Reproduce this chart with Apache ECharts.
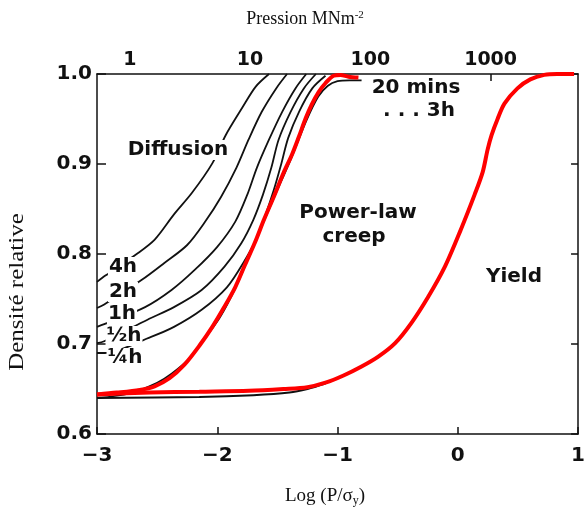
<!DOCTYPE html>
<html>
<head>
<meta charset="utf-8">
<script src="https://cdn.jsdelivr.net/npm/echarts@6/dist/echarts.min.js"></script>
<style>
  html, body { margin: 0; padding: 0; background: #fff; }
  #chart { width: 588px; height: 513px; }
</style>
</head>
<body>
<div id="chart"></div>
<script>
// axes: log(P/sigma_y) at the bottom, pressure (MN/m2) on top
const xTicks = [-3, -2, -1, 0, 1];
const densityTicks = [0.6, 0.7, 0.8, 0.9, 1.0];
const pressureTicks = [1, 10, 100, 1000];
const pressureOffset = 2.727; // log(P) - log(P/sigma_y)

// diffusion curves (black)
const h4X = [-3.0, -2.93, -2.67, -2.52, -2.36, -2.21, -2.04, -1.93, -1.79, -1.68, -1.57];
const h4Y = [0.769, 0.776, 0.800, 0.816, 0.844, 0.868, 0.901, 0.932, 0.963, 0.986, 1.0];

const h2X = [-3.0, -2.94, -2.63, -2.44, -2.25, -2.10, -1.97, -1.84, -1.74, -1.63, -1.51, -1.42];
const h2Y = [0.740, 0.744, 0.771, 0.790, 0.810, 0.836, 0.863, 0.896, 0.927, 0.958, 0.984, 1.0];

const h1X = [-3.0, -2.94, -2.60, -2.38, -2.19, -2.00, -1.85, -1.75, -1.67, -1.57, -1.46, -1.35, -1.26];
const h1Y = [0.719, 0.722, 0.741, 0.760, 0.782, 0.808, 0.836, 0.866, 0.896, 0.927, 0.958, 0.984, 1.0];

const halfHX = [-3.0, -2.94, -2.58, -2.36, -2.13, -1.94, -1.80, -1.70, -1.62, -1.55, -1.49, -1.39, -1.28, -1.18];
const halfHY = [0.701, 0.703, 0.727, 0.741, 0.760, 0.786, 0.812, 0.838, 0.866, 0.896, 0.927, 0.958, 0.984, 1.0];

const quarterHX = [-3.0, -2.94, -2.55, -2.36, -2.13, -1.92, -1.78, -1.67, -1.60, -1.53, -1.47, -1.41, -1.32, -1.21, -1.10];
const quarterHY = [0.690, 0.690, 0.708, 0.719, 0.738, 0.763, 0.791, 0.818, 0.843, 0.871, 0.899, 0.929, 0.958, 0.984, 0.998];

// black traces partly hidden under the red ones
const min20X = [-3.0, -2.73, -2.50, -2.38, -2.23, -2.11, -1.98, -1.85, -1.69, -1.53, -1.38, -1.26, -1.16, -1.08, -1.0, -0.90, -0.80];
const min20Y = [0.640, 0.645, 0.657, 0.667, 0.684, 0.705, 0.729, 0.762, 0.812, 0.862, 0.908, 0.948, 0.975, 0.987, 0.992, 0.993, 0.993];

const baseX = [-3.0, -2.15, -1.70, -1.40, -1.25, -1.10];
const baseY = [0.640, 0.641, 0.643, 0.646, 0.650, 0.656];

// red curves: power-law creep and yield
const creepX = [-3.0, -2.835, -2.645, -2.521, -2.397, -2.273, -2.149, -2.041, -1.942, -1.851, -1.769, -1.686, -1.612,
  -1.529, -1.446, -1.380, -1.322, -1.264, -1.215, -1.157, -1.099, -1.033, -0.975, -0.909, -0.826];
const creepY = [0.644, 0.646, 0.649, 0.653, 0.662, 0.677, 0.698, 0.719, 0.741, 0.763, 0.788, 0.813, 0.838,
  0.864, 0.891, 0.910, 0.930, 0.951, 0.966, 0.980, 0.990, 0.998, 0.999, 0.997, 0.996];

const yieldX = [-3.0, -2.562, -2.149, -1.736, -1.45, -1.25, -1.10, -0.95, -0.80, -0.661, -0.521, -0.388, -0.248,
  -0.107, 0.025, 0.140, 0.207, 0.248, 0.281, 0.331, 0.388, 0.496, 0.603, 0.719, 0.826, 0.967];
const yieldY = [0.644, 0.646, 0.647, 0.648, 0.650, 0.652, 0.657, 0.665, 0.675, 0.686, 0.701, 0.723, 0.752,
  0.786, 0.827, 0.866, 0.891, 0.916, 0.932, 0.950, 0.967, 0.984, 0.994, 0.999, 1.0, 1.0];

function zip(xs, ys) {
  return xs.map((x, i) => [x, ys[i]]);
}

function line(name, xs, ys, color, width, z) {
  return {
    name: name,
    type: 'line',
    xAxisIndex: 0,
    yAxisIndex: 0,
    data: zip(xs, ys),
    smooth: 0.3,
    showSymbol: false,
    z: z,
    lineStyle: { color: color, width: width },
    silent: true
  };
}

const boldFont = '"DejaVu Sans", Arial, sans-serif';
const serifFont = '"Liberation Serif", "Times New Roman", serif';

function note(text, x, y) {
  return {
    type: 'text',
    x: x,
    y: y,
    z: 100,
    style: {
      text: text,
      font: 'bold 20px ' + boldFont,
      fill: '#111',
      align: 'center',
      verticalAlign: 'middle',
      backgroundColor: '#fff',
      padding: [0, 1]
    }
  };
}

const chart = echarts.init(document.getElementById('chart'), null, { renderer: 'canvas' });

const axisLine = { show: true, onZero: false, lineStyle: { color: '#111', width: 1.5 } };
const tickLabel = { color: '#111', fontFamily: boldFont, fontWeight: 'bold', fontSize: 20 };

chart.setOption({
  animation: false,
  backgroundColor: '#fff',
  grid: { left: 97, right: 7, top: 74, bottom: 79 },
  xAxis: [
    {
      type: 'value',
      position: 'bottom',
      min: -3,
      max: 1,
      interval: 1,
      axisLine: axisLine,
      axisTick: { inside: true, length: 7, lineStyle: { color: '#111', width: 1.5 } },
      axisLabel: Object.assign({}, tickLabel, {
        margin: 12,
        formatter: v => (v < 0 ? '\u2212' + Math.abs(v) : String(v))
      }),
      splitLine: { show: false }
    },
    {
      type: 'value',
      position: 'top',
      min: -3 + pressureOffset,
      max: 1 + pressureOffset,
      axisLine: axisLine,
      axisTick: { inside: true, length: 7, customValues: [Math.log10(1000)], lineStyle: { color: '#111', width: 1.5 } },
      axisLabel: Object.assign({}, tickLabel, {
        fontSize: 19,
        margin: 4,
        customValues: pressureTicks.map(p => Math.log10(p)),
        formatter: v => String(Math.round(Math.pow(10, v)))
      }),
      splitLine: { show: false }
    }
  ],
  yAxis: [
    {
      type: 'value',
      position: 'left',
      min: 0.6,
      max: 1.0,
      interval: 0.1,
      axisLine: axisLine,
      axisTick: { inside: true, length: 9, lineStyle: { color: '#111', width: 1.5 } },
      axisLabel: Object.assign({}, tickLabel, {
        margin: 5,
        formatter: v => v.toFixed(1)
      }),
      splitLine: { show: false }
    },
    {
      type: 'value',
      position: 'right',
      min: 0.6,
      max: 1.0,
      interval: 0.1,
      axisLine: axisLine,
      axisTick: { inside: true, length: 7, lineStyle: { color: '#111', width: 1.5 } },
      axisLabel: { show: false },
      splitLine: { show: false }
    }
  ],
  series: [
    line('4h', h4X, h4Y, '#111', 1.8, 3),
    line('2h', h2X, h2Y, '#111', 1.8, 3),
    line('1h', h1X, h1Y, '#111', 1.8, 3),
    line('1/2h', halfHX, halfHY, '#111', 1.8, 3),
    line('1/4h', quarterHX, quarterHY, '#111', 1.8, 3),
    line('20 mins', min20X, min20Y, '#111', 1.8, 3),
    line('base', baseX, baseY, '#111', 2, 3),
    line('Power-law creep', creepX, creepY, '#ff0000', 4, 5),
    line('Yield', yieldX, yieldY, '#ff0000', 4, 5)
  ],
  graphic: [
    note('Diffusion', 178, 150),
    note('Power-law', 358, 213),
    note('creep', 354, 237),
    note('Yield', 514, 277),
    note('20 mins', 416, 88),
    note('. . . 3h', 419, 111),
    note('4h', 123, 267),
    note('2h', 123, 292),
    note('1h', 122, 314),
    note('\u00bdh', 124, 336),
    note('\u00bch', 125, 358),
    {
      type: 'text',
      x: 305,
      y: 19,
      z: 100,
      style: {
        text: 'Pression MNm{sup|-2}',
        font: '18px ' + serifFont,
        fill: '#111',
        align: 'center',
        verticalAlign: 'middle',
        rich: {
          sup: { font: '11px ' + serifFont, fill: '#111', verticalAlign: 'top', padding: [0, 0, 8, 0] }
        }
      }
    },
    {
      type: 'text',
      x: 325,
      y: 496,
      z: 100,
      style: {
        text: 'Log (P/\u03c3{sub|y})',
        font: '19px ' + serifFont,
        fill: '#111',
        align: 'center',
        verticalAlign: 'middle',
        rich: {
          sub: { font: '12px ' + serifFont, fill: '#111', padding: [9, 0, 0, 0] }
        }
      }
    },
    {
      type: 'text',
      x: 18,
      y: 292,
      rotation: Math.PI / 2,
      scaleX: 1.25,
      z: 100,
      style: {
        text: 'Densit\u00e9 relative',
        font: '20px ' + serifFont,
        fill: '#111',
        align: 'center',
        verticalAlign: 'middle'
      }
    }
  ]
});
</script>
</body>
</html>
